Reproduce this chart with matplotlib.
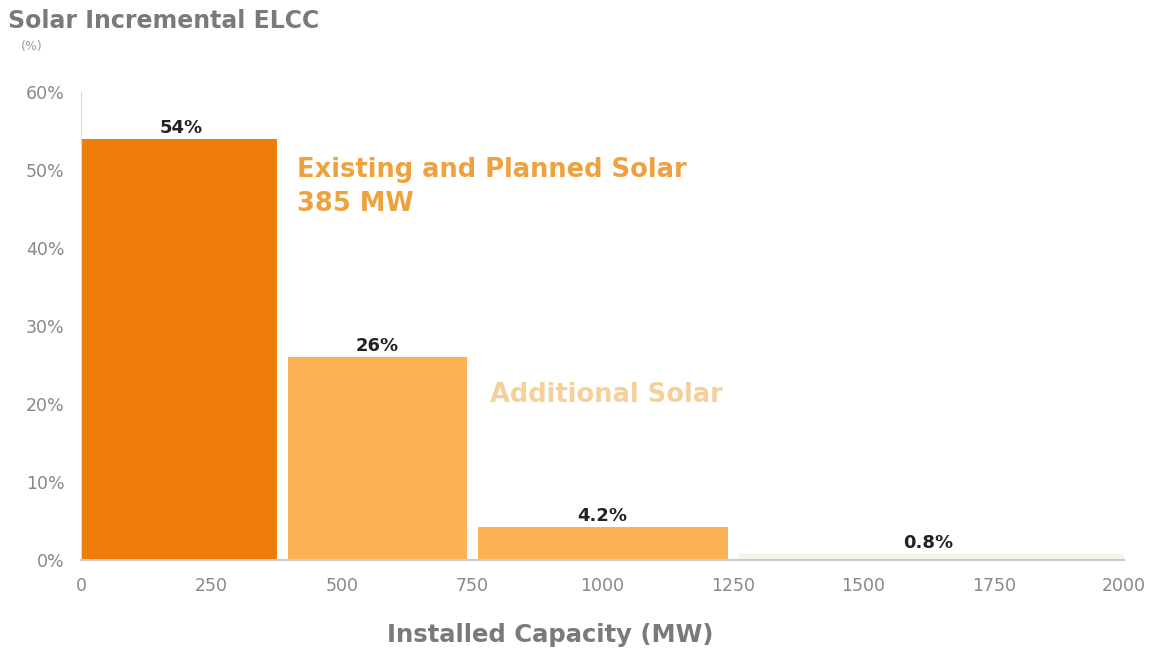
import matplotlib.pyplot as plt

# bar segments of installed capacity (MW) and their incremental ELCC (%)
starts = [0, 385, 750, 1250]
ends = [385, 750, 1250, 2000]
elcc = [54, 26, 4.2, 0.8]
value_labels = ['54%', '26%', '4.2%', '0.8%']
colors = ['#ee7d0c', '#fbb053', '#fbb053', '#f6f3ec']

xticks = [0, 250, 500, 750, 1000, 1250, 1500, 1750, 2000]
yticks = [0, 10, 20, 30, 40, 50, 60]

fig = plt.figure(figsize=(11.66, 6.49), dpi=100)
ax = fig.add_axes([0.0695, 0.137, 0.8945, 0.721])

widths = [e - s for s, e in zip(starts, ends)]
ax.bar(starts, elcc, width=widths, align='edge', color=colors,
       linewidth=0, zorder=1)
# white gaps between neighbouring bars
gap_tops = [max(a, b) + 0.5 for a, b in zip(elcc[:-1], elcc[1:])]
ax.vlines(starts[1:], 0, gap_tops, color='white', linewidth=8, zorder=2)

for s, w, v, lab in zip(starts, widths, elcc, value_labels):
    ax.text(s + w / 2, v + 0.3, lab, ha='center', va='bottom',
            fontsize=13, fontweight='bold', color='#222222')

ax.text(415, 50.0, 'Existing and Planned Solar', fontsize=18.5,
        fontweight='bold', color='#eea23f', ha='left', va='center')
ax.text(415, 45.6, '385 MW', fontsize=18.5,
        fontweight='bold', color='#eea23f', ha='left', va='center')
ax.text(785, 21.2, 'Additional Solar', fontsize=18.5, fontweight='bold',
        color='#f6d09a', ha='left', va='center')

ax.set_xlim(0, 2000)
ax.set_ylim(0, 60)
ax.set_xticks(xticks)
ax.set_yticks(yticks)
ax.set_yticklabels([f'{t}%' for t in yticks])
ax.tick_params(colors='#888888', labelsize=12.5, length=0)
ax.tick_params(axis='x', pad=12)
ax.tick_params(axis='y', pad=12)

for side in ['top', 'right']:
    ax.spines[side].set_visible(False)
ax.spines['left'].set_color('#dddddd')
ax.spines['bottom'].set_color('#cccccc')
ax.spines['bottom'].set_linewidth(1.5)

ax.set_xlabel('Installed Capacity (MW)', fontsize=17.5, fontweight='bold',
              color='#7a7a7a')
ax.xaxis.set_label_coords(0.45, -0.135)

fig.text(0.007, 0.968, 'Solar Incremental ELCC', fontsize=17,
         fontweight='bold', color='#7a7a7a', ha='left', va='center')
fig.text(0.018, 0.928, '(%)', fontsize=9, color='#999999', ha='left',
         va='center')

fig.savefig('out.png', dpi=100)
